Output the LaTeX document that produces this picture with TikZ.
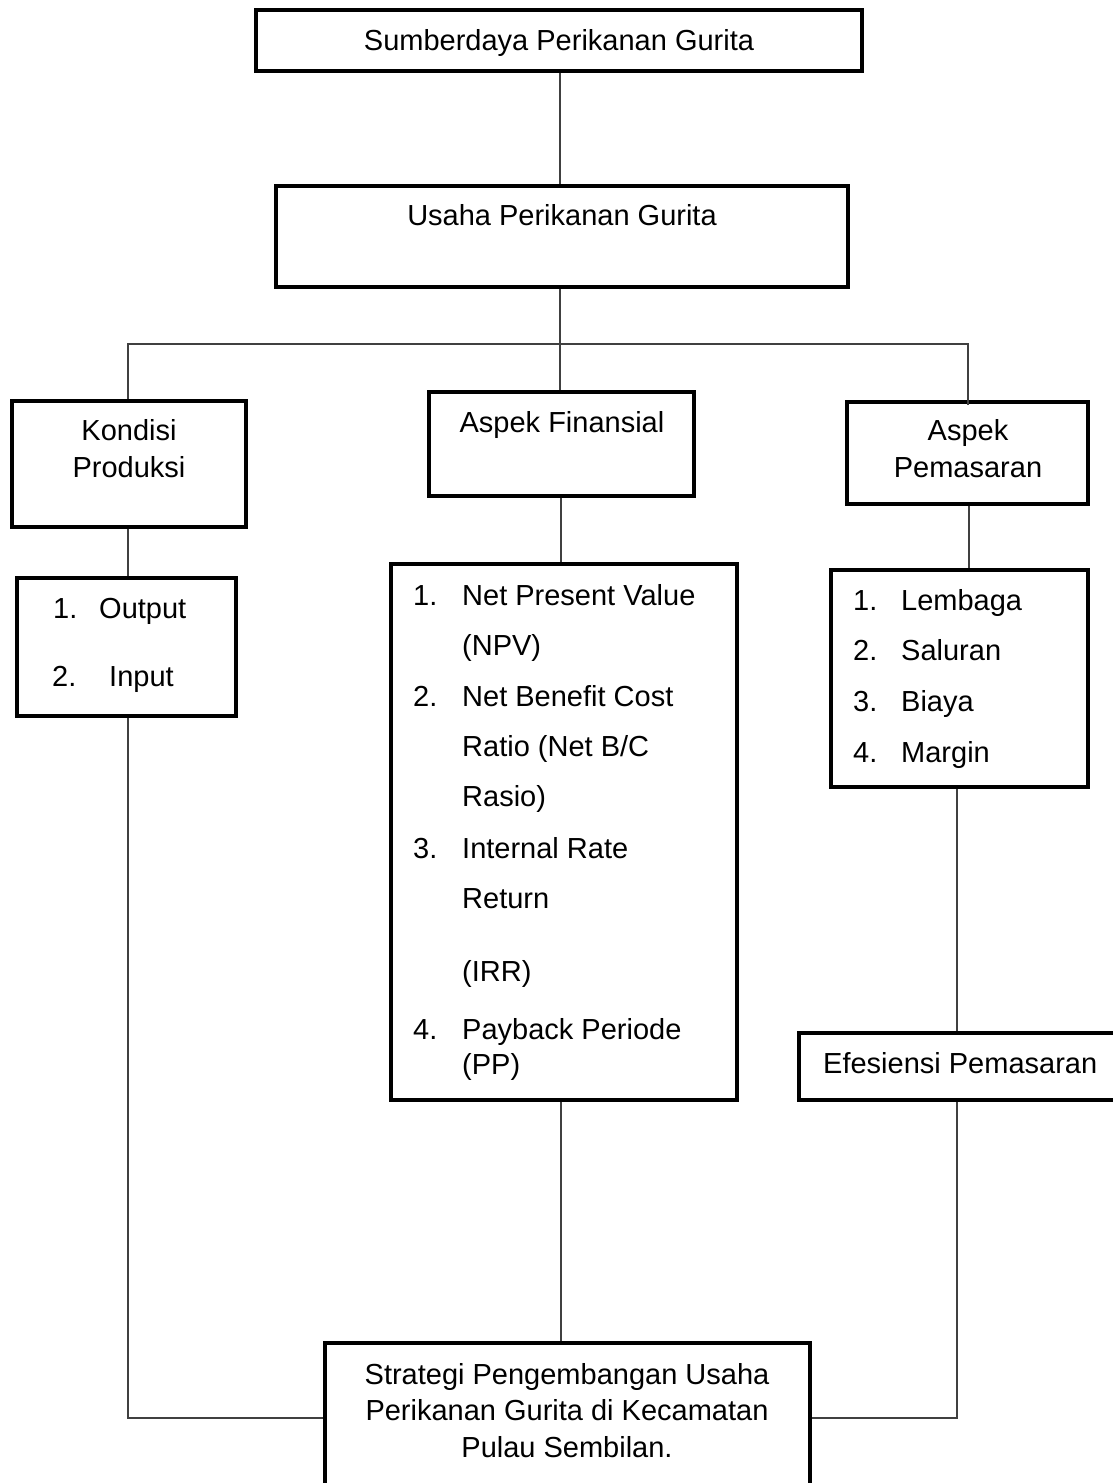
\documentclass[tikz,border=0pt]{standalone}
\usepackage{fontspec}
\setmainfont{Liberation Sans}
\begin{document}
\begin{tikzpicture}[x=1pt,y=-1pt,
  box/.style={draw=black, line width=3.5pt, inner sep=0pt},
  txt/.style={inner sep=0pt, anchor=base, font=\fontsize{29}{35}\selectfont},
  txtw/.style={txt, anchor=base west},
  conn/.style={draw=black!75, line width=1.3pt}]
\useasboundingbox (0,0) rectangle (1113,1483);
% boxes
\node[box, minimum width=606pt, minimum height=61pt] (top) at (559,40.5) {};
\node[box, minimum width=572pt, minimum height=101pt] (usaha) at (562,236.5) {};
\node[box, minimum width=234pt, minimum height=126pt] (kondisi) at (129,464) {};
\node[box, minimum width=265pt, minimum height=104pt] (fin) at (561.5,444) {};
\node[box, minimum width=241pt, minimum height=102pt] (pem) at (967.5,453) {};
\node[box, minimum width=219pt, minimum height=138pt] (klist) at (126.5,647) {};
\node[box, minimum width=346pt, minimum height=536pt] (flist) at (564,832) {};
\node[box, minimum width=257pt, minimum height=217pt] (plist) at (959.5,678.5) {};
\node[box, minimum width=321pt, minimum height=67pt] (efe) at (959.5,1066.5) {};
\node[box, minimum width=485pt, minimum height=157pt] (strat) at (567.5,1421.5) {};
% texts
\node[txt] (ttop) at (559,50) {Sumberdaya Perikanan Gurita};
\node[txt] (tusaha) at (562,225) {Usaha Perikanan Gurita};
\node[txt] (tk1) at (129,440) {Kondisi};
\node[txt] (tk2) at (129,477) {Produksi};
\node[txt] (tfin) at (562,432) {Aspek Finansial};
\node[txt] (tp1) at (968,440) {Aspek};
\node[txt] (tp2) at (968,477) {Pemasaran};
% left list
\node[txtw] (kn1) at (53,618) {1.};
\node[txtw] (kl1) at (99,618) {Output};
\node[txtw] (kn2) at (52,686) {2.};
\node[txtw] (kl2) at (109,686) {Input};
% middle list
\node[txtw] (fn1) at (413,605) {1.};
\node[txtw] (fl1) at (462,605) {Net Present Value};
\node[txtw] (fl1b) at (462,655) {(NPV)};
\node[txtw] (fn2) at (413,706) {2.};
\node[txtw] (fl2) at (462,706) {Net Benefit Cost};
\node[txtw] (fl2b) at (462,756) {Ratio (Net B/C};
\node[txtw] (fl2c) at (462,806) {Rasio)};
\node[txtw] (fn3) at (413,858) {3.};
\node[txtw] (fl3) at (462,858) {Internal Rate};
\node[txtw] (fl3b) at (462,908) {Return};
\node[txtw] (fl3c) at (462,981) {(IRR)};
\node[txtw] (fn4) at (413,1039) {4.};
\node[txtw] (fl4) at (462,1039) {Payback Periode};
\node[txtw] (fl4b) at (462,1074) {(PP)};
% right list
\node[txtw] (pn1) at (853,610) {1.};
\node[txtw] (pl1) at (901,610) {Lembaga};
\node[txtw] (pn2) at (853,660) {2.};
\node[txtw] (pl2) at (901,660) {Saluran};
\node[txtw] (pn3) at (853,711) {3.};
\node[txtw] (pl3) at (901,711) {Biaya};
\node[txtw] (pn4) at (853,762) {4.};
\node[txtw] (pl4) at (901,762) {Margin};
\node[txtw] (tefe) at (823,1073) {Efesiensi Pemasaran};
\node[txt] (ts1) at (567,1384) {Strategi Pengembangan Usaha};
\node[txt] (ts2) at (567,1420) {Perikanan Gurita di Kecamatan};
\node[txt] (ts3) at (567,1457) {Pulau Sembilan.};
% connector coordinates
\coordinate (jL) at (128,344);
\coordinate (jM) at (560,344);
\coordinate (jR) at (968,344);
\coordinate (m) at (561,0);
\coordinate (r1) at (969,0);
\coordinate (r2) at (957,0);
\coordinate (hb) at (0,1418);
% connectors
\draw[conn] (top.south -| jM) -- (usaha.north -| jM);
\draw[conn] (usaha.south -| jM) -- (fin.north -| jM);
\draw[conn] (jL |- kondisi.north) -- (jL) -- (jR) -- ([yshift=-5pt]jR |- pem.north);
\draw[conn] (kondisi.south -| jL) -- (klist.north -| jL);
\draw[conn] (klist.south -| jL) -- (jL |- hb) -- (strat.west |- hb);
\draw[conn] (fin.south -| m) -- (flist.north -| m);
\draw[conn] (flist.south -| m) -- (strat.north -| m);
\draw[conn] (pem.south -| r1) -- (plist.north -| r1);
\draw[conn] (plist.south -| r2) -- (efe.north -| r2);
\draw[conn] (efe.south -| r2) -- (r2 |- hb) -- (strat.east |- hb);
\end{tikzpicture}
\end{document}
